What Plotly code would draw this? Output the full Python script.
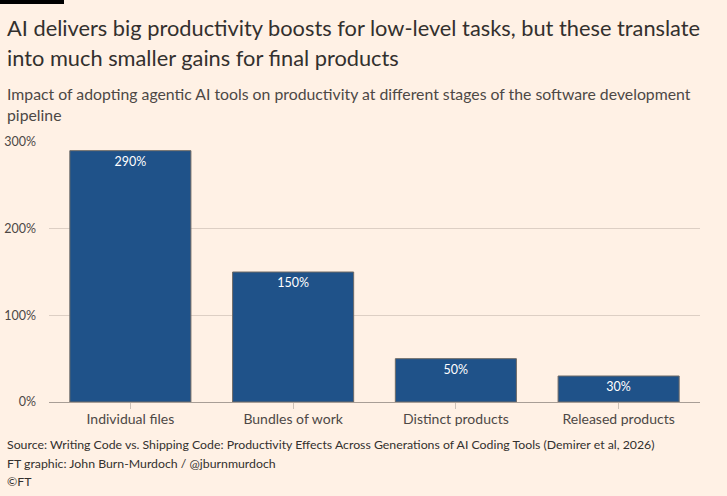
"""FT-style bar chart: agentic AI productivity gains by pipeline stage."""

import plotly.graph_objects as go

# Data
STAGES = ["Individual files", "Bundles of work", "Distinct products", "Released products"]
GAIN_PCT = [290, 150, 50, 30]
Y_TICKS = [0, 100, 200, 300]
Y_TICK_LABELS = ["0%", "100%", "200%", "300%"]

BG = "#FFF1E5"
BAR = "#1F5289"
INK = "#33302E"
TEXT = "#4D4845"
GRID = "#DDCFC4"
FONT = "Lato, Roboto, sans-serif"

W, H = 727, 496
PLOT_L, PLOT_R, PLOT_T, PLOT_B = 49, 700, 142, 402


def px_x(x):
    return (x - PLOT_L) / (PLOT_R - PLOT_L)


def px_y(y):
    return (PLOT_B - y) / (PLOT_B - PLOT_T)


fig = go.Figure()
fig.add_bar(
    x=STAGES,
    y=GAIN_PCT,
    text=[f"{v}%" for v in GAIN_PCT],
    textposition="inside",
    insidetextanchor="end",
    textfont={"family": FONT, "size": 12.5, "color": "white"},
    constraintext="none",
    marker={"color": BAR, "line": {"color": "#6E6A66", "width": 1}},
    hovertemplate="%{x}: %{y}%<extra></extra>",
)

texts = [
    # (text, x px, y px, size, color)
    ("AI delivers big productivity boosts for low-level tasks, but these translate", 5, 27, 21.8, INK),
    ("into much smaller gains for final products", 5, 57, 21.8, INK),
    ("Impact of adopting agentic AI tools on productivity at different stages of the software development", 5, 93, 15.8, TEXT),
    ("pipeline", 5, 115, 15.8, TEXT),
    ("Source: Writing Code vs. Shipping Code: Productivity Effects Across Generations of AI Coding Tools (Demirer et al, 2026)", 5, 444, 12.3, INK),
    ("FT graphic: John Burn-Murdoch / @jburnmurdoch", 5, 463, 12.3, INK),
    ("©FT", 5, 481, 12.3, INK),
]
for txt, x, y, size, color in texts:
    fig.add_annotation(
        text=txt,
        x=px_x(x),
        y=px_y(y),
        xref="paper",
        yref="paper",
        xanchor="left",
        yanchor="middle",
        showarrow=False,
        font={"family": FONT, "size": size, "color": color},
    )

# black FT tag at the top-left corner
fig.add_shape(
    type="rect",
    xref="paper",
    yref="paper",
    x0=px_x(0),
    x1=px_x(64),
    y0=px_y(4),
    y1=px_y(0),
    fillcolor="black",
    line={"width": 0},
)

fig.update_layout(
    width=W,
    height=H,
    paper_bgcolor=BG,
    plot_bgcolor=BG,
    margin={"l": PLOT_L, "r": W - PLOT_R, "t": PLOT_T, "b": H - PLOT_B},
    bargap=0.256,
    showlegend=False,
    font={"family": FONT, "color": TEXT},
)
fig.update_xaxes(
    automargin=False,
    showgrid=False,
    ticks="outside",
    ticklen=6,
    tickcolor="#CCC1B7",
    showline=True,
    linecolor="#A89E96",
    linewidth=1,
    ticklabelstandoff=-2,
    tickfont={"family": FONT, "size": 14, "color": TEXT},
)
fig.update_yaxes(
    automargin=False,
    range=[0, 300],
    tickvals=Y_TICKS,
    ticktext=Y_TICK_LABELS,
    showgrid=True,
    gridcolor=GRID,
    gridwidth=1,
    zeroline=False,
    ticks="",
    ticklabelstandoff=12,
    tickfont={"family": FONT, "size": 12.5, "color": TEXT},
)

fig.write_html(
    "out.html",
    config={"displayModeBar": False},
    post_script="document.body.style.margin='0';",
)
